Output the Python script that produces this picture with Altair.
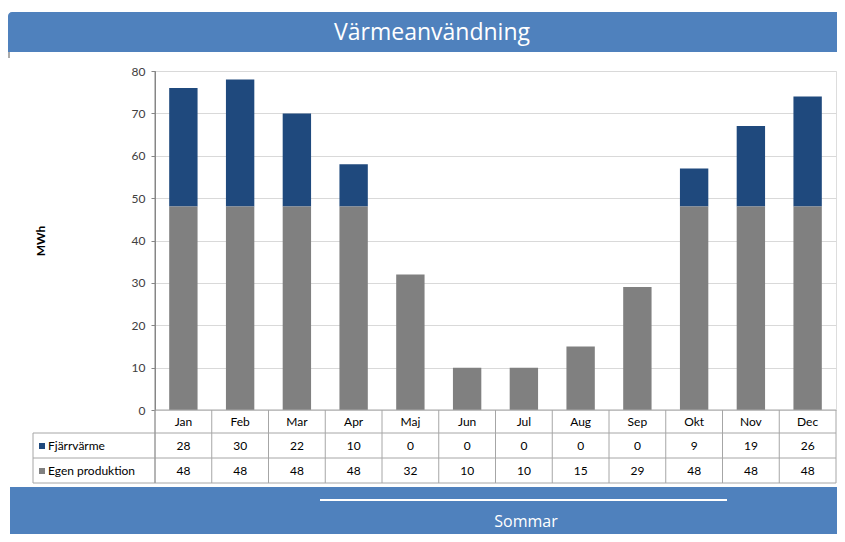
import altair as alt
import pandas as pd

months = ["Jan", "Feb", "Mar", "Apr", "Maj", "Jun", "Jul", "Aug", "Sep", "Okt", "Nov", "Dec"]
fjarr = [28, 30, 22, 10, 0, 0, 0, 0, 0, 9, 19, 26]
egen = [48, 48, 48, 48, 32, 10, 10, 15, 29, 48, 48, 48]
series = ["Fjärrvärme", "Egen produktion"]
colors = ["#1F497D", "#808080"]
y_ticks = [0, 10, 20, 30, 40, 50, 60, 70, 80]
title_text = "Värmeanvändning"
y_title = "MWh"
footer_text = "Sommar"

W, H = 681, 339
BOTTOM = 124
FONT = "Lato"
LINE = "#A6A6A6"
BLUE = "#4F81BD"

bars_df = pd.DataFrame({
    "month": months * 2,
    "serie": [series[0]] * 12 + [series[1]] * 12,
    "value": fjarr + egen,
    "order": [2] * 12 + [1] * 12,
})
one = pd.DataFrame({"k": [0]})
mdf = pd.DataFrame({"month": months})

xscale = alt.Scale(domain=months, paddingInner=0, paddingOuter=0)
xenc = alt.X("month:N", sort=months, scale=xscale, axis=None)

bars = alt.Chart(bars_df).mark_bar(width=alt.RelativeBandSize(0.5)).encode(
    x=xenc,
    y=alt.Y("value:Q", stack="zero",
            scale=alt.Scale(domain=[0, 80], nice=False),
            axis=alt.Axis(values=y_ticks, grid=True, gridColor="#D9D9D9",
                          domainColor="#868686", tickColor="#868686", tickSize=4,
                          labelFontSize=12, labelColor="#404040", labelPadding=6,
                          labelFont=FONT,
                          title=y_title, titleFontWeight="bold", titleFontSize=12,
                          titleFont=FONT, titleColor="#000000",
                          titleX=-115, titleY=H / 2, titleBaseline="middle")),
    color=alt.Color("serie:N", scale=alt.Scale(domain=series, range=colors), legend=None),
    order=alt.Order("order:Q"),
)

def hrule(y, x1=-122, x2=W):
    return alt.Chart(one).mark_rule(color=LINE, strokeWidth=1).encode(
        x=alt.value(x1), x2=alt.value(x2), y=alt.value(y))

def vrule(x, y1, y2, color=LINE):
    return alt.Chart(one).mark_rule(color=color, strokeWidth=1).encode(
        x=alt.value(x), y=alt.value(y1), y2=alt.value(y2))

band_lines = alt.Chart(mdf).mark_rule(color=LINE, strokeWidth=1).encode(
    x=alt.X("month:N", sort=months, scale=xscale, axis=None, bandPosition=0),
    y=alt.value(H), y2=alt.value(412))

month_text = alt.Chart(mdf).mark_text(fontSize=12, font=FONT, color="#000000").encode(
    x=xenc, y=alt.value(351), text="month:N")
fj_text = alt.Chart(pd.DataFrame({"month": months, "v": fjarr})).mark_text(
    fontSize=12, font=FONT, color="#000000").encode(x=xenc, y=alt.value(375), text="v:Q")
eg_text = alt.Chart(pd.DataFrame({"month": months, "v": egen})).mark_text(
    fontSize=12, font=FONT, color="#000000").encode(x=xenc, y=alt.value(400), text="v:Q")

def row_label(i, y):
    sq = alt.Chart(one).mark_square(size=36, color=colors[i], opacity=1, filled=True).encode(
        x=alt.value(-113), y=alt.value(y))
    tx = alt.Chart(pd.DataFrame({"s": [series[i]]})).mark_text(
        fontSize=12, font=FONT, color="#000000", align="left").encode(
        x=alt.value(-107), y=alt.value(y), text="s:N")
    return sq + tx

banner = alt.Chart(one).mark_rect(color=BLUE, cornerRadiusTopLeft=4).encode(
    x=alt.value(-147), x2=alt.value(683), y=alt.value(-59), y2=alt.value(-19))
banner_shadow = vrule(-146, -19, -13, color="#595959")
banner_text = alt.Chart(pd.DataFrame({"t": [title_text]})).mark_text(
    fontSize=23, font="Open Sans", color="white").encode(
    x=alt.value(277), y=alt.value(-38), text="t:N")

footer = alt.Chart(one).mark_rect(color=BLUE).encode(
    x=alt.value(-145), x2=alt.value(683), y=alt.value(416), y2=alt.value(H + BOTTOM))
footer_line = alt.Chart(one).mark_rule(color="white", strokeWidth=2).encode(
    x=alt.value(165), x2=alt.value(572), y=alt.value(429))
footer_text_l = alt.Chart(pd.DataFrame({"t": [footer_text]})).mark_text(
    fontSize=16, font="Open Sans", color="white").encode(
    x=alt.value(371), y=alt.value(451), text="t:N")

chart = alt.layer(
    banner, banner_shadow, banner_text,
    bars,
    hrule(H, 0, W), hrule(362), hrule(387), hrule(412),
    vrule(0, 0, 412, color="#868686"), vrule(-122, 362, 412), vrule(W, H, 412),
    band_lines,
    month_text, fj_text, eg_text,
    row_label(0, 375), row_label(1, 400),
    footer, footer_line, footer_text_l,
).properties(
    width=W, height=H,
    autosize=alt.AutoSizeParams(type="none"),
    padding={"left": 147, "top": 63, "right": 1, "bottom": BOTTOM},
).configure_view(stroke=None).configure(background="white")

chart.save("out.html", embed_options={"renderer": "svg", "actions": False})
